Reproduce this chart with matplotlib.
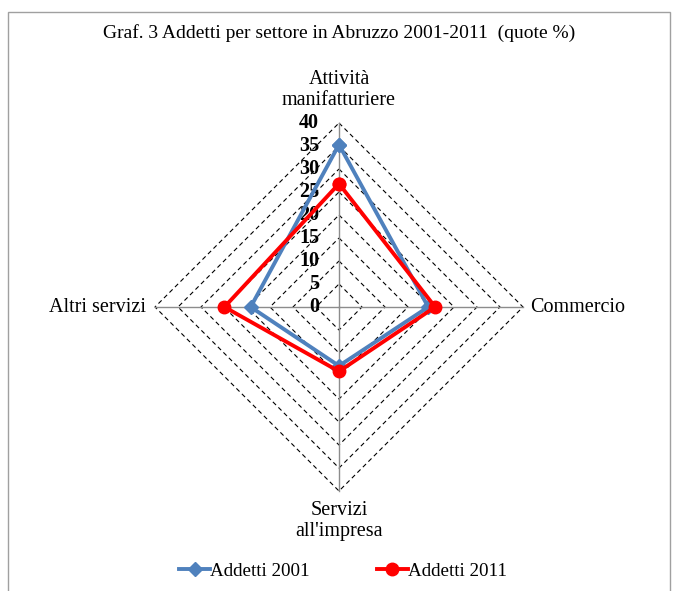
import numpy as np
import matplotlib
matplotlib.use("Agg")
import matplotlib.pyplot as plt
from matplotlib.patches import Rectangle

categories = ["Attività\nmanifatturiere", "Commercio", "Servizi\nall'impresa", "Altri servizi"]
addetti_2001 = [35.3, 19.4, 12.8, 19.2]
addetti_2011 = [26.8, 20.9, 14.0, 24.9]
ticks = [0, 5, 10, 15, 20, 25, 30, 35, 40]
series_names = ["Addetti 2001", "Addetti 2011"]

plt.rcParams['font.family'] = ['Liberation Serif', 'DejaVu Serif']

W, H = 678, 591
fig = plt.figure(figsize=(W / 100, H / 100), dpi=100)

# frame
fig.patches.append(Rectangle((8 / W, 1 - 600 / H), (670 - 8) / W, (600 - 12) / H,
                             transform=fig.transFigure, fill=False,
                             edgecolor='#a0a0a0', linewidth=1.0))

cx, cy, ppu = 339, 307, 4.6  # pixel centre & pixels per unit
half_w = 200 / ppu
ax = fig.add_axes([(cx - 200) / W, 1 - (cy + 200) / H, 400 / W, 400 / H])
ax.set_xlim(-half_w, half_w)
ax.set_ylim(-half_w, half_w)
ax.set_aspect('equal')
ax.axis('off')

n = len(categories)
angles = np.pi / 2 - 2 * np.pi * np.arange(n) / n

def xy(vals):
    v = np.asarray(vals, dtype=float)
    x = v * np.cos(angles)
    y = v * np.sin(angles)
    return np.append(x, x[0]), np.append(y, y[0])

# grid diamonds
for t in ticks[1:]:
    gx, gy = xy([t] * n)
    ax.plot(gx, gy, color='black', linestyle=(0, (4, 3)), linewidth=0.8, zorder=1)
# spokes
for a in angles:
    ax.plot([0, ticks[-1] * np.cos(a)], [0, ticks[-1] * np.sin(a)],
            color='#8c8c8c', linewidth=1.0, zorder=1)

# tick labels
for t in ticks:
    ax.text(-4.3, t, str(t), ha='right', va='center', fontsize=14.5,
            fontweight='bold', color='black', zorder=2)

# series
x1, y1 = xy(addetti_2001)
ax.plot(x1, y1, color='#4F81BD', linewidth=2.8, marker='D', markersize=7,
        zorder=3, label=series_names[0])
x2, y2 = xy(addetti_2011)
ax.plot(x2, y2, color='#FF0000', linewidth=2.8, marker='o', markersize=9,
        zorder=4, label=series_names[1])

# category labels (figure pixel positions)
def ftext(px, py, s, ha='center', va='center'):
    fig.text(px / W, 1 - py / H, s, ha=ha, va=va, fontsize=14.5,
             linespacing=1.1)

ftext(339, 90, categories[0])
ftext(530, 307, categories[1], ha='left')
ftext(339, 521, categories[2])
ftext(146, 307, categories[3], ha='right')

fig.text(339 / W, 1 - 33 / H, "Graf. 3 Addetti per settore in Abruzzo 2001-2011  (quote %)",
         ha='center', va='center', fontsize=14)

fig.legend(loc='center', bbox_to_anchor=(343 / W, 1 - 571 / H), ncol=2,
           frameon=False, fontsize=13.7, handlelength=1.65, handletextpad=0.0,
           columnspacing=3.5)

fig.savefig('out.png', dpi=100)
